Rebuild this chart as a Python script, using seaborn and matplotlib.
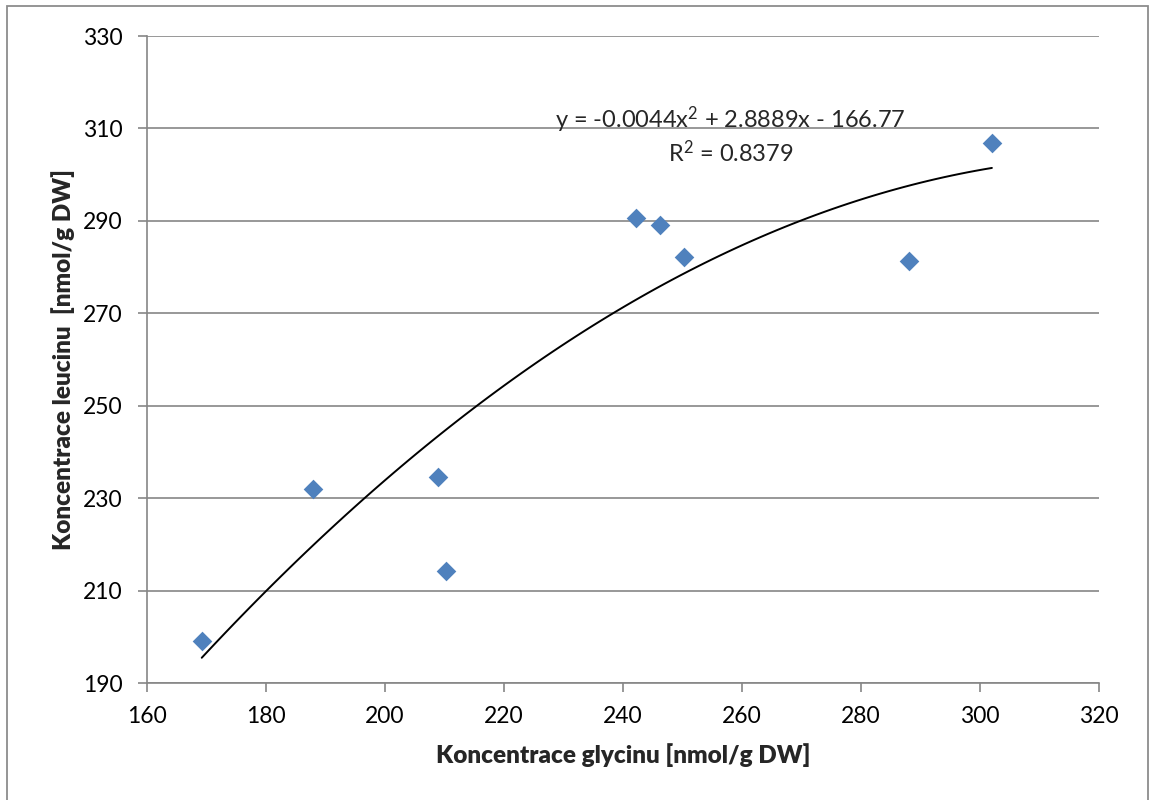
import numpy as np
import pandas as pd
import matplotlib
matplotlib.use("Agg")
import matplotlib.pyplot as plt
import seaborn as sns
from matplotlib.patches import Rectangle

# Measured concentrations (nmol/g DW)
glycine = [169.2, 187.9, 208.9, 210.3, 242.2, 246.2, 250.3, 288.1, 302.0]
leucine = [199.1, 232.0, 234.6, 214.2, 290.6, 289.1, 282.2, 281.3, 306.9]

x_ticks = [160, 180, 200, 220, 240, 260, 280, 300, 320]
y_ticks = [190, 210, 230, 250, 270, 290, 310, 330]

x_label = "Koncentrace glycinu [nmol/g DW]"
y_label = "Koncentrace leucinu  [nmol/g DW]"
fit_equation = r"y = -0.0044x$\mathregular{^2}$ + 2.8889x - 166.77"
fit_r2 = r"R$\mathregular{^2}$ = 0.8379"

sns.set_theme(style="white")
plt.rcParams["font.family"] = ["Lato", "DejaVu Sans"]

GRAY = "#868686"
BLUE = "#4F81BD"

fig = plt.figure(figsize=(11.49, 8.0), dpi=100)
ax = fig.add_axes([147 / 1149, 1 - 683 / 800, (1099 - 147) / 1149, (683 - 36) / 800])

df = pd.DataFrame({"glycine": glycine, "leucine": leucine})
# Scatter with a second-order polynomial trend line
sns.regplot(
    data=df, x="glycine", y="leucine", order=2, ci=None, ax=ax,
    marker="D",
    scatter_kws=dict(s=100, color=BLUE, linewidths=0, zorder=3, alpha=1),
    line_kws=dict(color="black", lw=1.4, zorder=2),
)

ax.set_xlim(x_ticks[0], x_ticks[-1])
ax.set_ylim(y_ticks[0], y_ticks[-1])
ax.set_xticks(x_ticks)
ax.set_yticks(y_ticks)
ax.yaxis.grid(True, color=GRAY, lw=1.2)
ax.xaxis.grid(False)
ax.set_axisbelow(True)

for side in ("top", "right"):
    ax.spines[side].set_visible(False)
for side in ("left", "bottom"):
    ax.spines[side].set_color(GRAY)
    ax.spines[side].set_linewidth(1.2)

ax.tick_params(axis="both", direction="out", length=6.5, width=1.2, color=GRAY,
               labelsize=16.5, labelcolor="black")
ax.tick_params(axis="y", pad=11, left=True)
ax.tick_params(axis="x", pad=10, bottom=True)

ax.set_xlabel(x_label, fontsize=17.5, fontweight="heavy", labelpad=12)
ax.set_ylabel(y_label, fontsize=17.5, fontweight="heavy", labelpad=6)

fig.text(730 / 1149, 1 - 120 / 800, fit_equation, fontsize=17, ha="center", va="center")
fig.text(731 / 1149, 1 - 153 / 800, fit_r2, fontsize=17, ha="center", va="center")

# Chart area border
fig.patches.append(Rectangle((7 / 1149, -0.05), (1148 - 7) / 1149, 1.05 - 6.5 / 800,
                             transform=fig.transFigure, fill=False,
                             edgecolor="#8c8c8c", lw=1.3))

fig.savefig("out.png", dpi=100)
